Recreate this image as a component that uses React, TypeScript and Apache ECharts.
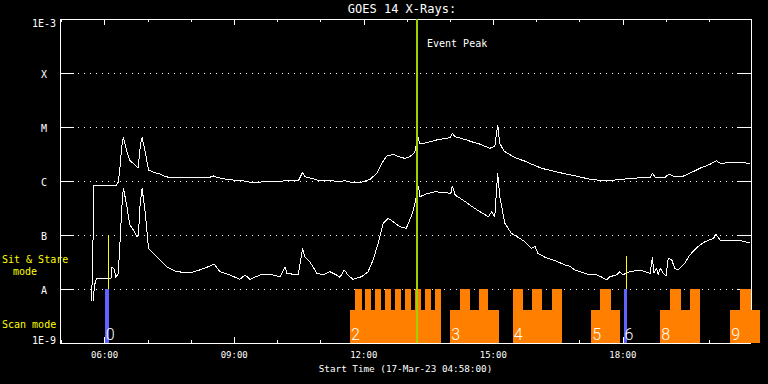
import React, { useEffect, useRef } from "react";
import * as echarts from "echarts";

// ---- axis ranges / ticks ----
const START_TIME = "04:58";
const END_TIME = "20:58";
const majorTickTimes = ["06:00", "09:00", "12:00", "15:00", "18:00"];
const hourTickTimes = ["05:00", "06:00", "07:00", "08:00", "09:00", "10:00", "11:00", "12:00", "13:00", "14:00", "15:00", "16:00", "17:00", "18:00", "19:00", "20:00"];
const levelValues = [1e-9, 1e-8, 1e-7, 1e-6, 1e-5, 1e-4, 1e-3];
const levelLabels = ["1E-9", "A", "B", "C", "M", "X", "1E-3"];

// ---- GOES 14 X-ray flux (W/m^2) ----
const longChannel: [string, number][] = [
  ["05:42", 6.0e-9], ["05:44", 1.0e-7], ["05:45", 8.4e-7], ["05:47", 8.1e-7], ["06:00", 8.2e-7],
  ["06:16", 8.2e-7], ["06:19", 9.6e-7], ["06:21", 1.6e-6], ["06:24", 4.6e-6], ["06:26", 6.4e-6],
  ["06:31", 3.5e-6], ["06:35", 2.4e-6], ["06:40", 2.1e-6], ["06:45", 1.8e-6], ["06:47", 1.8e-6],
  ["06:48", 2.8e-6], ["06:50", 5.0e-6], ["06:52", 6.4e-6], ["06:56", 3.7e-6], ["07:01", 1.6e-6],
  ["07:08", 1.45e-6], ["07:17", 1.35e-6], ["07:24", 1.2e-6], ["07:31", 1.17e-6], ["08:26", 1.17e-6],
  ["08:31", 1.24e-6], ["08:36", 1.17e-6], ["08:45", 1.1e-6], ["08:59", 1.04e-6], ["09:13", 1.0e-6],
  ["09:22", 9.5e-7], ["09:36", 9.5e-7], ["09:45", 9.9e-7], ["10:04", 9.9e-7], ["10:11", 1.01e-6],
  ["10:29", 1.0e-6], ["10:35", 1.45e-6], ["10:38", 1.2e-6], ["10:50", 1.1e-6], ["10:59", 1.0e-6],
  ["11:13", 1.03e-6], ["11:25", 9.7e-7], ["11:34", 1.01e-6], ["11:45", 9.3e-7], ["11:59", 9.6e-7],
  ["12:09", 1.08e-6], ["12:18", 1.39e-6], ["12:25", 2.13e-6], ["12:32", 2.9e-6], ["12:41", 3.12e-6],
  ["12:48", 2.82e-6], ["12:57", 2.63e-6], ["13:04", 2.82e-6], ["13:11", 3.4e-6], ["13:12", 4.03e-6],
  ["13:15", 6.9e-6], ["13:18", 4.84e-6], ["13:27", 5.12e-6], ["13:41", 5.74e-6], ["14:00", 6.34e-6],
  ["14:03", 7.64e-6], ["14:07", 6.61e-6], ["14:23", 5.74e-6], ["14:34", 5.12e-6], ["14:41", 4.84e-6],
  ["14:55", 4.03e-6], ["15:02", 4.35e-6], ["15:06", 1.07e-5], ["15:09", 4.99e-6], ["15:14", 3.75e-6],
  ["15:16", 3.49e-6], ["15:28", 2.82e-6], ["15:30", 2.7e-6], ["15:46", 2.28e-6], ["15:53", 2.06e-6],
  ["16:07", 1.72e-6], ["16:30", 1.45e-6], ["16:53", 1.25e-6], ["17:14", 1.08e-6], ["17:37", 1.0e-6],
  ["18:00", 1.08e-6], ["18:24", 1.15e-6], ["18:38", 1.17e-6], ["18:41", 1.39e-6], ["18:45", 1.17e-6],
  ["18:58", 1.15e-6], ["19:04", 1.35e-6], ["19:12", 1.2e-6], ["19:22", 1.2e-6], ["19:33", 1.39e-6],
  ["19:47", 1.72e-6], ["20:01", 2.04e-6], ["20:10", 2.38e-6], ["20:15", 2.13e-6], ["20:29", 2.18e-6],
  ["20:47", 2.18e-6], ["20:56", 2.13e-6],
];

const shortChannel: [string, number][] = [
  ["05:44", 6.0e-9], ["05:46", 1.19e-8], ["05:49", 1.58e-8], ["06:00", 1.58e-8], ["06:09", 1.58e-8],
  ["06:10", 2.59e-8], ["06:14", 2.25e-8], ["06:15", 1.6e-8], ["06:19", 1.95e-8], ["06:21", 6.07e-8],
  ["06:24", 3.34e-7], ["06:26", 7.52e-7], ["06:31", 3.34e-7], ["06:35", 1.53e-7], ["06:40", 1.24e-7],
  ["06:45", 9.3e-8], ["06:47", 1.0e-7], ["06:49", 3.34e-7], ["06:52", 7.32e-7], ["06:56", 2.9e-7],
  ["07:01", 5.67e-8], ["07:08", 4.58e-8], ["07:17", 3.44e-8], ["07:26", 2.59e-8], ["07:40", 2.09e-8],
  ["07:59", 2.0e-8], ["08:12", 2.25e-8], ["08:24", 2.59e-8], ["08:32", 2.9e-8], ["08:40", 2.09e-8],
  ["08:54", 1.82e-8], ["09:08", 1.51e-8], ["09:15", 1.82e-8], ["09:22", 1.51e-8], ["09:36", 1.82e-8],
  ["09:54", 1.82e-8], ["10:04", 1.69e-8], ["10:11", 2.59e-8], ["10:13", 1.95e-8], ["10:29", 1.82e-8],
  ["10:35", 5.67e-8], ["10:38", 3.96e-8], ["10:45", 3.2e-8], ["10:55", 1.95e-8], ["11:04", 1.82e-8],
  ["11:13", 2.09e-8], ["11:22", 1.82e-8], ["11:27", 1.65e-8], ["11:33", 2.25e-8], ["11:38", 1.82e-8],
  ["11:45", 1.51e-8], ["11:57", 1.69e-8], ["12:06", 2.09e-8], ["12:13", 3.44e-8], ["12:20", 7.02e-8],
  ["12:27", 1.65e-7], ["12:34", 2.04e-7], ["12:41", 1.76e-7], ["12:50", 1.43e-7], ["12:59", 1.33e-7],
  ["13:04", 1.9e-7], ["13:09", 2.9e-7], ["13:12", 4.45e-7], ["13:16", 8.08e-7], ["13:18", 5.12e-7],
  ["13:27", 5.74e-7], ["13:39", 6.34e-7], ["13:53", 6.07e-7], ["14:01", 5.9e-7], ["14:03", 8.08e-7],
  ["14:07", 5.5e-7], ["14:21", 4.14e-7], ["14:34", 3.12e-7], ["14:53", 2.18e-7], ["14:58", 2.7e-7],
  ["15:02", 2.13e-7], ["15:06", 1.39e-6], ["15:09", 5.12e-7], ["15:16", 1.65e-7], ["15:25", 1.08e-7],
  ["15:44", 7.52e-8], ["15:53", 5.67e-8], ["15:58", 6.07e-8], ["16:02", 4.58e-8], ["16:12", 3.86e-8],
  ["16:26", 3.34e-8], ["16:40", 2.78e-8], ["16:46", 2.66e-8], ["16:53", 2.25e-8], ["17:14", 1.82e-8],
  ["17:24", 1.82e-8], ["17:31", 1.65e-8], ["17:37", 1.47e-8], ["17:42", 1.69e-8], ["17:51", 1.82e-8],
  ["17:56", 2.09e-8], ["18:00", 1.82e-8], ["18:05", 2.0e-8], ["18:10", 2.09e-8], ["18:24", 2.25e-8],
  ["18:38", 1.95e-8], ["18:41", 3.96e-8], ["18:43", 1.95e-8], ["18:47", 2.42e-8], ["18:49", 1.82e-8],
  ["18:52", 2.42e-8], ["18:56", 1.95e-8], ["19:00", 1.74e-8], ["19:03", 3.7e-8], ["19:08", 3.44e-8],
  ["19:12", 2.42e-8], ["19:17", 2.25e-8], ["19:26", 2.99e-8], ["19:33", 4.26e-8], ["19:43", 5.92e-8],
  ["19:54", 7.52e-8], ["20:06", 8.69e-8], ["20:09", 1.04e-7], ["20:15", 8.08e-8], ["20:29", 7.84e-8],
  ["20:43", 7.84e-8], ["20:56", 7.2e-8],
];

// ---- observing modes ----
const scanBlocks: [string, string][] = [
  ["11:41", "13:47"], ["14:00", "15:08"], ["15:27", "16:35"], ["17:16", "17:56"], ["18:52", "19:47"], ["20:29", "21:10"],
];
const scanRasters: [string, string][] = [
  ["11:48", "11:57"], ["12:02", "12:10"], ["12:16", "12:24"], ["12:29", "12:38"], ["12:43", "12:52"],
  ["12:57", "13:06"], ["13:11", "13:20"], ["13:25", "13:33"], ["13:39", "13:47"],
  ["14:14", "14:27"], ["14:40", "14:53"],
  ["15:27", "15:41"], ["15:54", "16:07"], ["16:21", "16:35"],
  ["17:28", "17:43"],
  ["19:05", "19:21"], ["19:33", "19:47"],
  ["20:43", "20:58"],
];
const sitStareBars: [string, string][] = [["06:00", "06:06"], ["18:01", "18:06"]];
const sitStareMarks: [string, number][] = [["06:05", 1e-7], ["18:05", 4.1e-8]];
const scanNumbers: [string, string][] = [
  ["06:00", "0"], ["11:41", "2"], ["14:00", "3"], ["15:27", "4"], ["17:16", "5"], ["18:01", "6"], ["18:52", "8"], ["20:29", "9"],
];
const eventPeakTime = "13:13";

const toH = (t: string) => {
  const [h, m] = t.split(":").map(Number);
  return h + m / 60;
};
const pad = (n: number) => (n < 10 ? "0" + n : "" + n);

const FONT = "'DejaVu Sans Mono', monospace";
const FLOOR = 1e-9;
const LEVEL_A = 1e-8;
const SCAN_BASE_TOP = 4.1e-9;
const ORANGE = "#ff8000";
const BLUE = "#6262ff";
const YELLOW = "#ffff00";
const GREEN = "#a0d000";

export default function App() {
  const ref = useRef<HTMLDivElement>(null);
  useEffect(() => {
    if (!ref.current) return;
    const chart = echarts.init(ref.current, undefined, { renderer: "svg" });
    const xMin = toH(START_TIME);
    const xMax = toH(END_TIME);
    const majors = majorTickTimes.map(toH);
    const hours = hourTickTimes.map(toH);

    const baseX = {
      type: "value",
      min: xMin,
      max: xMax,
      splitLine: { show: false },
      axisLine: { show: false, lineStyle: { color: "#fff", width: 1 } },
      axisLabel: { show: false },
    };

    const blockSeries = (items: [string, string][], top: number, color: string, z: number) => ({
      type: "custom",
      coordinateSystem: "cartesian2d",
      clip: false,
      silent: true,
      z,
      data: items.map(([s, e]) => [toH(s), toH(e), FLOOR]),
      encode: { x: [0, 1], y: 2 },
      renderItem: (_p: any, api: any) => {
        const a = api.coord([api.value(0), top]);
        const b = api.coord([api.value(1), api.value(2)]);
        return {
          type: "rect",
          shape: { x: a[0], y: a[1], width: b[0] - a[0], height: b[1] - a[1] },
          style: { fill: color },
        };
      },
    });

    const option: any = {
      animation: false,
      backgroundColor: "#000",
      title: {
        text: "GOES 14 X-Rays:",
        left: 402,
        top: 3,
        padding: 0,
        textAlign: "center",
        textStyle: { color: "#fff", fontSize: 12, fontWeight: "normal", fontFamily: FONT },
      },
      grid: { left: 60, top: 19, width: 691, height: 324, containLabel: false },
      xAxis: [
        {
          ...baseX,
          position: "bottom",
          axisLine: { show: true, lineStyle: { color: "#fff", width: 1 } },
          axisTick: { show: true, inside: true, length: 6, customValues: majors, lineStyle: { color: "#fff" } },
          axisLabel: {
            show: true,
            customValues: majors,
            margin: 7,
            color: "#fff",
            fontSize: 9,
            fontFamily: FONT,
            formatter: (v: number) => pad(Math.round(v)) + ":00",
          },
          name: "Start Time (17-Mar-23 04:58:00)",
          nameLocation: "middle",
          nameGap: 21,
          nameTextStyle: { color: "#fff", fontSize: 9.3, fontFamily: FONT },
        },
        {
          ...baseX,
          position: "bottom",
          axisTick: { show: true, inside: true, length: 3, customValues: hours, lineStyle: { color: "#fff" } },
        },
        {
          ...baseX,
          position: "top",
          axisLine: { show: true, lineStyle: { color: "#fff", width: 1 } },
          axisTick: { show: true, inside: true, length: 6, customValues: majors, lineStyle: { color: "#fff" } },
        },
        {
          ...baseX,
          position: "top",
          axisTick: { show: true, inside: true, length: 3, customValues: hours, lineStyle: { color: "#fff" } },
        },
      ],
      yAxis: [
        {
          type: "log",
          logBase: 10,
          min: FLOOR,
          max: 1e-3,
          position: "left",
          axisLine: { show: true, lineStyle: { color: "#fff" } },
          axisTick: { show: true, inside: true, length: 14, lineStyle: { color: "#fff" } },
          splitLine: { show: true, lineStyle: { color: "#fff", type: [1, 5], width: 1 } },
          axisLabel: {
            show: true,
            margin: 16,
            align: "center",
            color: "#fff",
            fontSize: 10,
            fontFamily: FONT,
            formatter: (v: number) => {
              const idx = levelValues.findIndex((l) => Math.abs(Math.log10(l) - Math.log10(v)) < 0.01);
              if (idx < 0) return "";
              if (idx === levelValues.length - 1) return "{top|" + levelLabels[idx] + "}";
              if (idx === 0) return "{bot|" + levelLabels[idx] + "}";
              return "{mid|" + levelLabels[idx] + "}";
            },
            rich: {
              top: { color: "#fff", fontSize: 10, fontFamily: FONT, padding: [8, 0, 0, 0] },
              bot: { color: "#fff", fontSize: 10, fontFamily: FONT, padding: [0, 0, 6, 0] },
              mid: { color: "#fff", fontSize: 10, fontFamily: FONT, padding: [2, 0, 0, 0] },
            },
          },
        },
        {
          type: "log",
          logBase: 10,
          min: FLOOR,
          max: 1e-3,
          position: "right",
          axisLine: { show: true, lineStyle: { color: "#fff" } },
          axisTick: { show: true, inside: true, length: 14, lineStyle: { color: "#fff" } },
          splitLine: { show: false },
          axisLabel: { show: false },
        },
      ],
      graphic: [
        { type: "text", x: 427, y: 43, style: { text: "Event Peak", fill: "#fff", font: "10px " + FONT, textVerticalAlign: "middle", verticalAlign: "middle" } },
        { type: "text", x: 2, y: 259, style: { text: "Sit & Stare", fill: YELLOW, font: "10px " + FONT, textVerticalAlign: "middle", verticalAlign: "middle" } },
        { type: "text", x: 13, y: 271, style: { text: "mode", fill: YELLOW, font: "10px " + FONT, textVerticalAlign: "middle", verticalAlign: "middle" } },
        { type: "text", x: 2, y: 324, style: { text: "Scan mode", fill: YELLOW, font: "10px " + FONT, textVerticalAlign: "middle", verticalAlign: "middle" } },
      ],
      series: [
        {
          name: "1-8 A",
          type: "line",
          data: longChannel.map(([t, f]) => [toH(t), f]),
          showSymbol: false,
          symbol: "none",
          lineStyle: { color: "#fff", width: 1 },
          z: 2,
          markLine: {
            silent: true,
            symbol: ["none", "none"],
            label: { show: false },
            lineStyle: { color: GREEN, width: 2, type: "solid" },
            data: [{ xAxis: toH(eventPeakTime) }],
            z: 5,
          },
        },
        {
          name: "0.5-4 A",
          type: "line",
          data: shortChannel.map(([t, f]) => [toH(t), f]),
          showSymbol: false,
          symbol: "none",
          lineStyle: { color: "#fff", width: 1 },
          z: 2,
        },
        blockSeries(scanBlocks, SCAN_BASE_TOP, ORANGE, 3),
        blockSeries(scanRasters, LEVEL_A, ORANGE, 3),
        blockSeries(sitStareBars, LEVEL_A, BLUE, 3),
        {
          type: "custom",
          coordinateSystem: "cartesian2d",
          clip: false,
          silent: true,
          z: 4,
          data: sitStareMarks.map(([t, top]) => [toH(t), top]),
          encode: { x: 0, y: 1 },
          renderItem: (_p: any, api: any) => {
            const a = api.coord([api.value(0), api.value(1)]);
            const b = api.coord([api.value(0), LEVEL_A]);
            const x = Math.round(a[0]) + 0.5;
            return { type: "line", shape: { x1: x, y1: a[1], x2: x, y2: b[1] }, style: { stroke: YELLOW, lineWidth: 1 } };
          },
        },
        {
          type: "custom",
          coordinateSystem: "cartesian2d",
          clip: false,
          silent: true,
          z: 6,
          data: scanNumbers.map(([t]) => [toH(t), FLOOR]),
          encode: { x: 0, y: 1 },
          renderItem: (p: any, api: any) => {
            const a = api.coord([api.value(0), api.value(1)]);
            return {
              type: "text",
              x: a[0] + 1,
              y: a[1] - 9,
              style: {
                text: scanNumbers[p.dataIndex][1],
                fill: "#fff",
                font: "300 16px Roboto, 'Liberation Sans', sans-serif",
                align: "left",
                verticalAlign: "middle",
              },
            };
          },
        },
      ],
    };
    chart.setOption(option);
    return () => chart.dispose();
  }, []);
  return (
    <>
      <style>{".goes-chart svg path { shape-rendering: crispEdges; }"}</style>
      <div
        ref={ref}
        className="goes-chart"
        style={{ position: "fixed", left: 0, top: 0, width: 768, height: 384, background: "#000" }}
      />
    </>
  );
}
